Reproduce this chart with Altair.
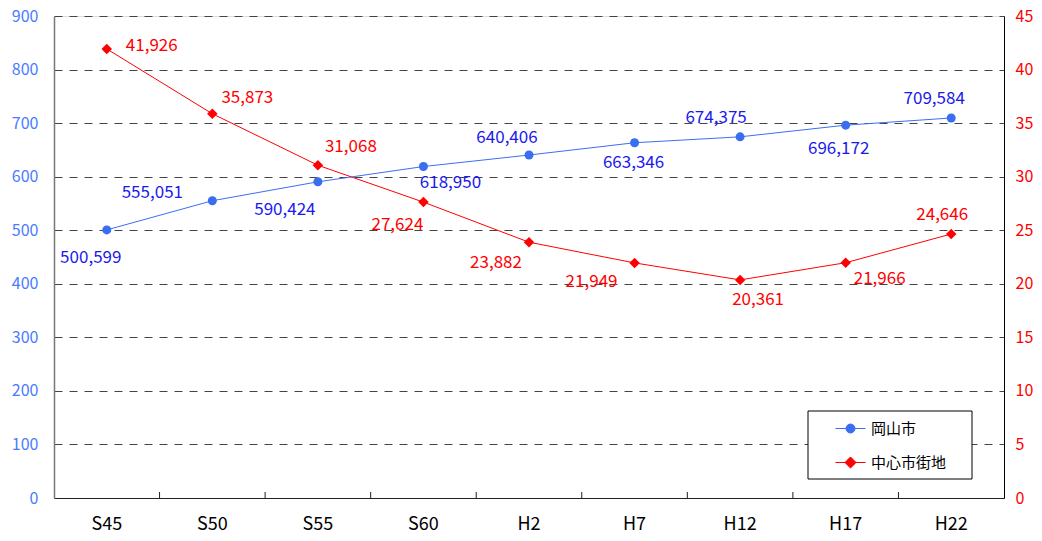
import altair as alt
import pandas as pd

# ---- data ----
cats = ["S45", "S50", "S55", "S60", "H2", "H7", "H12", "H17", "H22"]
okayama = [500599, 555051, 590424, 618950, 640406, 663346, 674375, 696172, 709584]
center = [41926, 35873, 31068, 27624, 23882, 21949, 20361, 21966, 24646]
series_names = ["岡山市", "中心市街地"]
left_ticks = list(range(0, 901, 100))
right_ticks = list(range(0, 46, 5))

# ---- label offsets (style) ----
blue_off = [(-16, 28), (-60, -8), (-33, 28), (27, 16), (-22, -17), (-1, 20), (-24, -19), (-7, 24), (-17, -19)]
red_off = [(45, -3), (35, -16), (33, -18), (-26, 23), (-33, 21), (-43, 19), (18, 20), (34, 16), (-9, -19)]

FONT = "Noto Sans CJK JP"
BLUE_LINE = "#3c6ef5"
BLUE_PT = "#3a6ef0"
BLUE_TXT = "#1a1aee"
BLUE_AX = "#4a7bff"
RED = "#ff0000"

df_b = pd.DataFrame({"cat": cats, "value": okayama})
df_r = pd.DataFrame({"cat": cats, "value": center})
df_leg = pd.DataFrame({"series": series_names})
df_ticks = pd.DataFrame({"cat": cats[1:]})
df_one = pd.DataFrame({"k": [0]})

xscale = alt.Scale(type="band", domain=cats, paddingInner=0, paddingOuter=0)
xaxis = alt.Axis(title=None, ticks=False, labelAngle=0, labelFontSize=18,
                 labelColor="black", labelPadding=17, domainColor="#222",
                 labelFont=FONT)
X = alt.X("cat:N", sort=cats, scale=xscale, bandPosition=0.5, axis=xaxis)

Y_left = alt.Y("v:Q", scale=alt.Scale(domain=[0, 900], nice=False, zero=True),
               axis=alt.Axis(orient="left", title=None, values=left_ticks, ticks=False,
                             grid=True, gridDash=[8, 7], gridColor="#444444", gridWidth=1,
                             labelColor=BLUE_AX, labelFontSize=16, labelPadding=16,
                             domainColor="#777777", domainWidth=1.5, labelFont=FONT))
Y_right = alt.Y("v:Q", scale=alt.Scale(domain=[0, 45], nice=False, zero=True),
                axis=alt.Axis(orient="right", title=None, values=right_ticks, ticks=False,
                              grid=False, labelColor=RED, labelFontSize=16, labelPadding=11,
                              domainColor="black", domainWidth=1, labelFont=FONT))

def series_layers(df, Y, line_color, pt_color, txt_color, shape, size, offs):
    base = alt.Chart(df).transform_calculate(v="datum.value/1000")
    layers = [
        base.mark_line(color=line_color, strokeWidth=1).encode(x=X, y=Y),
        base.mark_point(filled=True, shape=shape, size=size, color=pt_color, opacity=1).encode(x=X, y=Y),
    ]
    for c, (dx, dy) in zip(cats, offs):
        layers.append(
            base.transform_filter(alt.datum.cat == c)
            .mark_text(dx=dx, dy=dy, color=txt_color, fontSize=17, font=FONT,
                       align="center", baseline="middle")
            .encode(x=X, y=Y, text=alt.Text("value:Q", format=","))
        )
    return layers

blue_layers = series_layers(df_b, Y_left, BLUE_LINE, BLUE_PT, BLUE_TXT, "circle", 81, blue_off)
red_layers = series_layers(df_r, Y_right, RED, RED, RED, "diamond", 110, red_off)

# inward x-axis ticks at category boundaries
tick_layer = alt.Chart(df_ticks).mark_rule(color="#222", strokeWidth=1).encode(
    x=alt.X("cat:N", sort=cats, scale=xscale, bandPosition=0, axis=xaxis),
    y=alt.value(482), y2=alt.value(476))

# legend frame
legend_box = alt.Chart(df_one).mark_rect(fill="white", stroke="black", strokeWidth=1).encode(
    x=alt.value(754), x2=alt.value(918), y=alt.value(395), y2=alt.value(463))

# legend
path_circle = "M-1,0L1,0M0.3,0A0.3,0.3,0,1,1,-0.3,0A0.3,0.3,0,1,1,0.3,0Z"
path_diamond = "M-1,0L1,0M0,-0.37L0.37,0L0,0.37L-0.37,0Z"
leg = alt.Legend(title=None, orient="none", legendX=781, legendY=397,
                 padding=0, rowPadding=10, labelFontSize=15, labelFont=FONT,
                 labelColor="black", symbolSize=900, symbolStrokeWidth=1,
                 symbolOpacity=1, symbolOffset=0, labelOffset=5)
legend_layer = alt.Chart(df_leg).mark_point(filled=True, opacity=0).encode(
    fill=alt.Fill("series:N", sort=series_names,
                  scale=alt.Scale(domain=series_names, range=[BLUE_PT, RED]), legend=leg),
    stroke=alt.Stroke("series:N", sort=series_names,
                      scale=alt.Scale(domain=series_names, range=[BLUE_LINE, RED]), legend=leg),
    shape=alt.Shape("series:N", sort=series_names,
                    scale=alt.Scale(domain=series_names, range=[path_circle, path_diamond]), legend=leg),
)

blue_group = alt.layer(tick_layer, *blue_layers, legend_layer)
red_group = alt.layer(*red_layers, legend_box)

chart = (
    alt.layer(blue_group, red_group)
    .resolve_scale(y="independent")
    .properties(width=950, height=482,
                padding={"left": 46, "top": 8, "right": 30, "bottom": 35},
                autosize=alt.AutoSizeParams(type="none"))
    .configure_view(stroke=None)
    .configure(font=FONT)
)

chart.save("out.html", embed_options={"renderer": "svg", "actions": False})
